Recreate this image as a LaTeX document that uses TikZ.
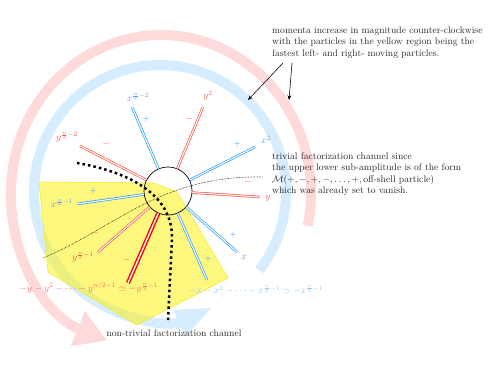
\documentclass[tikz,border=0pt]{standalone}
\usepackage{amsmath}
\usetikzlibrary{arrows.meta,calc}
\definecolor{rspk}{RGB}{255,85,70}
\definecolor{bspk}{RGB}{50,160,250}
\definecolor{rtxt}{RGB}{255,80,80}
\definecolor{btxt}{RGB}{70,160,250}
\definecolor{rarc}{RGB}{255,218,218}
\definecolor{barc}{RGB}{214,236,255}
\definecolor{rform}{RGB}{255,105,105}
\definecolor{bform}{RGB}{140,200,255}
\definecolor{yedge}{RGB}{240,235,40}
\begin{document}
\begin{tikzpicture}[x=1.04pt,y=-1.04pt,
  bsp/.style={draw=bspk,double=white,line width=0.75pt,double distance=1.1pt},
  rsp/.style={draw=rspk,double=white,line width=0.75pt,double distance=1.1pt},
  rthick/.style={draw=red,double=white,line width=1.5pt,double distance=1.4pt},
  bl/.style={text=btxt,inner sep=0pt},
  rl/.style={text=rtxt,inner sep=0pt},
  bsign/.style={text=bspk,inner sep=0pt},
  rsign/.style={text=rspk,inner sep=0pt},
  txt/.style={inner sep=0pt,align=left,anchor=west,text=black!85},
  bigdots/.style={line width=2.6pt,dash pattern=on 2.6pt off 3.2pt},
  thindots/.style={line width=0.6pt,densely dotted},
  pointer/.style={line width=0.6pt,-{Stealth[length=5pt,width=4pt]}}
]
\useasboundingbox (0,0) rectangle (495,383);
% big momentum arcs
\draw[line width=10.4pt,draw=rarc,-{Triangle[length=33pt,width=37pt]}]
  (161,193) ++(12:150 and 158) arc[start angle=12,end angle=-249,x radius=150,y radius=158];
\draw[line width=10.4pt,draw=barc,-{Triangle[length=39pt,width=27pt]}]
  (160,192) ++(38:126 and 127) arc[start angle=38,end angle=-295,x radius=126,y radius=127];
% yellow region
\fill[yellow,fill opacity=0.5] (39,182) -- (154,183) -- (177,192) -- (228,278) -- (137,325) -- (48,272) -- cycle;
\draw[yedge,line width=0.6pt] (39,182) -- (154,183) -- (177,192) -- (228,278) -- (137,325) -- (48,272) -- cycle;
% blob
\node[draw,circle,minimum size=50pt,inner sep=0pt,line width=0.7pt] (c) at (168,191) {};
% spoke ends
\coordinate (e1) at (132,107);
\coordinate (e2) at (203,107);
\coordinate (e3) at (255,147);
\coordinate (e4) at (260,197);
\coordinate (e5) at (237,252);
\coordinate (e6) at (207,280);
\coordinate (e7) at (128,283);
\coordinate (e8) at (98,252);
\coordinate (e9) at (77,204);
\coordinate (e10) at (80,146);
\draw[bsp] (c) -- (e1);
\draw[rsp] (c) -- (e2);
\draw[bsp] (c) -- (e3);
\draw[rsp] (c) -- (e4);
\draw[bsp] (c) -- (e5);
\draw[bsp] (c) -- (e6);
\draw[rthick] (c) -- (e7);
\draw[rsp] (c) -- (e8);
\draw[bsp] (c) -- (e9);
\draw[rsp] (c) -- (e10);
% dotted channels
\draw[thindots] (43,258) .. controls (115,228) and (160,175) .. (263,177);
\draw[bigdots] (77,163) .. controls (130,172) and (172,195) .. (172,237) -- (168,322);
% labels
\node[bl] (l1) at (138,97) {$x^{\frac{n}{2}-2}$};
\node[rl] (l2) at (208,96) {$y^{2}$};
\node[bl] (l3) at (266,140) {$x^{2}$};
\node[rl] (l4) at (268,198) {$y$};
\node[bl] (l5) at (244,257) {$x$};
\node[rl] (l8) at (83,257) {$y^{\frac{n}{2}-1}$};
\node[bl] (l9) at (62,203) {$x^{\frac{n}{2}-1}$};
\node[rl] (l10) at (67,137) {$y^{\frac{n}{2}-2}$};
% signs
\node[bsign] (s1) at (146,119) {$+$};
\node[rsign] (s2) at (189,119) {$-$};
\node[bsign] (s3) at (237,144) {$+$};
\node[rsign] (s4) at (248,182) {$-$};
\node[bsign] (s5) at (233,235) {$+$};
\node[bsign] (s6) at (208,259) {$+$};
\node[rsign] (s7) at (126,260) {$-$};
\node[rsign] (s8) at (95,233) {$-$};
\node[bsign] (s9) at (93,191) {$+$};
\node[rsign] (s10) at (106,144) {$-$};
% sums
\node[text=rform,inner sep=0pt] (rsum) at (89,288) {$-y-y^2-\cdots-y^{n/2-1}\simeq -y^{\frac{n}{2}-1}$};
\node[text=bform,inner sep=0pt] (bsum) at (256,290) {$-x-x^2-\cdots-x^{\frac{n}{2}-1}\simeq -x^{\frac{n}{2}-1}$};
% texts
\node[txt] (mom) at (272,42.5) {momenta increase in magnitude counter-clockwise\\with the particles in the yellow region being the\\fastest left- and right- moving particles.};
\node[txt] (triv) at (272,174) {trivial factorization channel since\\the upper lower sub-amplitude is of the form\\$\mathcal{M}(+,-,+,-,\dots,+,\text{off-shell particle})$\\which was already set to vanish.};
\node[inner sep=0pt,text=black!85] (nontriv) at (174,333) {non-trivial factorization channel};
% pointers
\coordinate (p1) at (283,63);
\coordinate (q1) at (248,100);
\coordinate (p2) at (292,63);
\coordinate (q2) at (289,100);
\draw[pointer] (p1) -- (q1);
\draw[pointer] (p2) -- (q2);
\end{tikzpicture}
\end{document}
